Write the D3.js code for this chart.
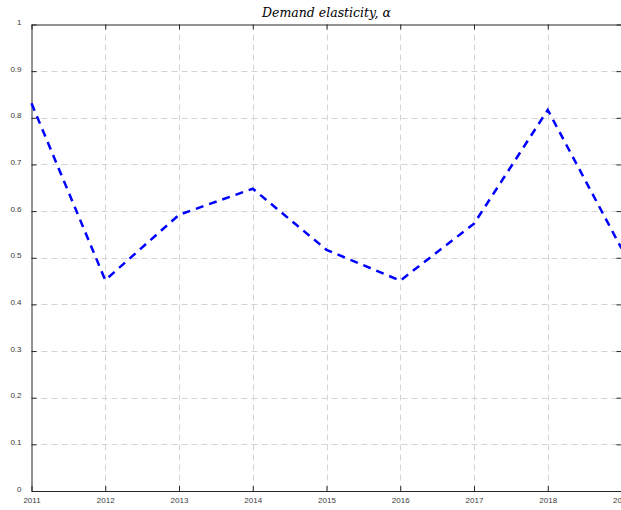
<!DOCTYPE html>
<html>
<head>
<meta charset="utf-8">
<script src="https://cdn.jsdelivr.net/npm/d3@7"></script>
<style>
  body { margin: 0; background: #fff; overflow: hidden; }
  .tick text { font-family: Arial, "Liberation Sans", sans-serif; font-size: 8px; fill: #3a3a3a; }
  .grid line { stroke: #d4d4d4; stroke-dasharray: 6,4; stroke-width: 1; }
</style>
</head>
<body>
<div id="chart"></div>
<script>
// data
var years = [2011, 2012, 2013, 2014, 2015, 2016, 2017, 2018, 2019];
var alpha = [0.831, 0.452, 0.592, 0.648, 0.517, 0.451, 0.573, 0.817, 0.52];
var yTicks = [0, 0.1, 0.2, 0.3, 0.4, 0.5, 0.6, 0.7, 0.8, 0.9, 1];

var width = 621, height = 510,
  margin = { top: 24.5, right: -0.5, bottom: 19, left: 31.5 };

var svg = d3.select('#chart')
  .append('svg')
  .attr('width', width)
  .attr('height', height);

var x = d3.scaleLinear()
  .domain([2011, 2019])
  .range([margin.left, width - margin.right]);

var y = d3.scaleLinear()
  .domain([0, 1])
  .range([height - margin.bottom, margin.top]);

// grid
svg.append('g')
  .attr('class', 'grid')
  .selectAll('line.v')
  .data(years.slice(1))
  .enter()
  .append('line')
  .attr('x1', function (d) { return Math.round(x(d)) + 0.5; })
  .attr('x2', function (d) { return Math.round(x(d)) + 0.5; })
  .attr('y1', y(1))
  .attr('y2', y(0));

svg.select('.grid')
  .selectAll('line.h')
  .data(yTicks.slice(1, -1))
  .enter()
  .append('line')
  .attr('x1', x(2011))
  .attr('x2', x(2019))
  .attr('y1', function (d) { return Math.round(y(d)) + 0.5; })
  .attr('y2', function (d) { return Math.round(y(d)) + 0.5; });

// axes, ticks pointing in
var xAxis = svg.append('g')
  .attr('transform', 'translate(0,' + y(0) + ')')
  .call(d3.axisBottom(x).tickValues(years).tickFormat(d3.format('d')).tickSizeInner(-5).tickSizeOuter(0).tickPadding(6));

var xTop = svg.append('g')
  .attr('transform', 'translate(0,' + y(1) + ')')
  .call(d3.axisTop(x).tickValues(years).tickFormat('').tickSizeInner(-5).tickSizeOuter(0));

var yAxis = svg.append('g')
  .attr('transform', 'translate(' + x(2011) + ',0)')
  .call(d3.axisLeft(y).tickValues(yTicks).tickFormat(function (d) { return d3.format('')(d); }).tickSizeInner(-5).tickSizeOuter(0).tickPadding(10));

var yRight = svg.append('g')
  .attr('transform', 'translate(' + x(2019) + ',0)')
  .call(d3.axisRight(y).tickValues(yTicks).tickFormat('').tickSizeInner(-5).tickSizeOuter(0));

[xAxis, xTop, yAxis, yRight].forEach(function (a) {
  a.select('.domain').attr('stroke', '#262626').attr('stroke-width', 1);
  a.selectAll('.tick line').attr('stroke', '#262626');
});
yAxis.selectAll('.tick text').attr('dy', '0em');

// the series
var line = d3.line()
  .x(function (d, i) { return x(years[i]); })
  .y(function (d) { return y(d); });

svg.append('path')
  .datum(alpha)
  .attr('d', line)
  .attr('fill', 'none')
  .attr('stroke', '#0000ff')
  .attr('stroke-width', 2.5)
  .attr('stroke-dasharray', '8,6');

// title
svg.append('text')
  .attr('x', (x(2011) + x(2019)) / 2)
  .attr('y', 17)
  .attr('text-anchor', 'middle')
  .style('font-family', '"DejaVu Serif", serif')
  .style('font-style', 'italic')
  .style('font-size', '12.5px')
  .style('fill', '#000')
  .text('Demand elasticity, α');
</script>
</body>
</html>
